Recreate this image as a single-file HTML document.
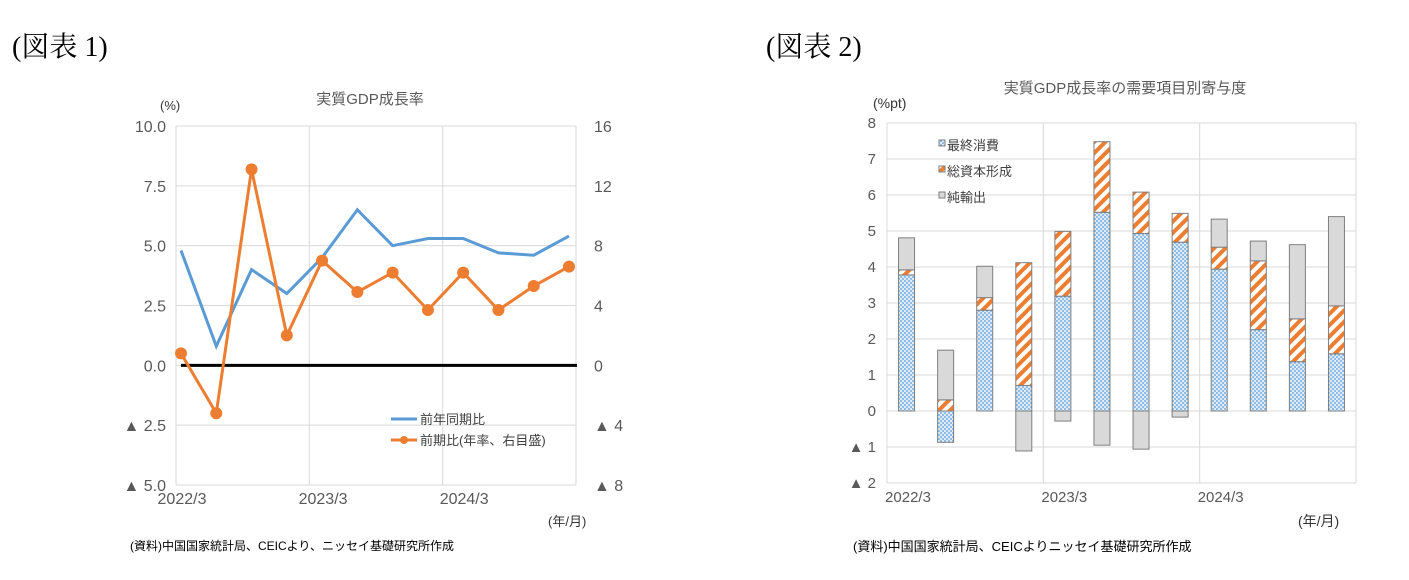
<!DOCTYPE html>
<html><head><meta charset="utf-8">
<style>
body{margin:0;background:#fff;width:1409px;height:575px;overflow:hidden;font-family:"Liberation Sans","Noto Sans CJK JP",sans-serif;}
svg text{font-family:"Liberation Sans","Noto Sans CJK JP",sans-serif;}
</style></head><body>
<svg id="root" width="1409" height="575" xmlns="http://www.w3.org/2000/svg">
<defs>
<pattern id="dots" width="4" height="4" patternUnits="userSpaceOnUse">
<rect width="4" height="4" fill="#dcebf8"/><circle cx="1" cy="1" r="0.9" fill="#5b9bd5"/><circle cx="3" cy="3" r="0.9" fill="#5b9bd5"/></pattern>
<pattern id="stripes" width="8" height="8" patternUnits="userSpaceOnUse" patternTransform="rotate(45)">
<rect width="8" height="8" fill="#fff"/><rect width="4" height="8" fill="#ed7d31"/></pattern>
</defs>
<text x="12" y="56" font-size="28" font-family="Liberation Serif,Noto Serif CJK SC,serif" style="font-family:'Liberation Serif','Noto Serif CJK SC',serif">(図表 1)</text>
<text x="766" y="56" font-size="28" style="font-family:'Liberation Serif','Noto Serif CJK SC',serif">(図表 2)</text>
<g id="c1"></g>
<g id="c2"></g>
</svg>
<script>
const NS="http://www.w3.org/2000/svg";
function mk(p,t,a,txt){const e=document.createElementNS(NS,t);for(const k in a)e.setAttribute(k,a[k]);if(txt!=null)e.textContent=txt;p.appendChild(e);return e;}

// ---- Chart 1 data ----
const c1Categories=["2022/3","2022/6","2022/9","2022/12","2023/3","2023/6","2023/9","2023/12","2024/3","2024/6","2024/9","2024/12"];
const c1YoY=[4.8,0.8,4.0,3.0,4.5,6.5,5.0,5.3,5.3,4.7,4.6,5.4];
const c1QoQ=[0.8,-3.2,13.1,2.0,7.0,4.9,6.2,3.7,6.2,3.7,5.3,6.6];
const c1LeftTicks=["10.0","7.5","5.0","2.5","0.0","▲ 2.5","▲ 5.0"];
const c1RightTicks=["16","12","8","4","0","▲ 4","▲ 8"];
const c1XLabels=["2022/3","2023/3","2024/3"];

// ---- Chart 2 data ----
const c2Categories=c1Categories;
const c2Consumption=[3.78,-0.87,2.80,0.71,3.19,5.52,4.93,4.69,3.94,2.26,1.37,1.59];
const c2Capital=[0.14,0.31,0.35,3.41,1.80,1.96,1.15,0.80,0.61,1.91,1.19,1.33];
const c2NetExports=[0.89,1.38,0.87,-1.11,-0.28,-0.95,-1.06,-0.17,0.78,0.55,2.06,2.48];
const c2Ticks=["8","7","6","5","4","3","2","1","0","▲ 1","▲ 2"];
const c2XLabels=["2022/3","2023/3","2024/3"];

// ===== Chart 1 =====
(function(){
const g=document.getElementById('c1');
const L=176,R=576,T=126,B=485;
const yL=v=>T+(10-v)/15*(B-T);
const yR=v=>T+(16-v)/24*(B-T);
const x=i=>181+i*(569-181)/11;
let t=mk(g,'text',{x:370,y:104,'font-size':15,fill:'#595959','text-anchor':'middle'},'実質GDP成長率');


t=mk(g,'text',{x:160,y:110,'font-size':13,fill:'#333'},'(%)');


c1LeftTicks.forEach((s,i)=>{const y=T+i*(B-T)/6;
 const l=mk(g,'line',{x1:L,x2:R,y1:y,y2:y,stroke:'#d9d9d9'});
 
 
 const a=mk(g,'text',{x:166,y:y+6,'font-size':16,fill:'#595959','text-anchor':'end'},s);
 
 
 const b=mk(g,'text',{x:594,y:y+6,'font-size':16,fill:'#595959'},c1RightTicks[i]);
 
 
});
[0,4,8,12].forEach(k=>{const xx=L+k*(R-L)/12;
 const l=mk(g,'line',{x1:xx,x2:xx,y1:T,y2:B,stroke:'#d9d9d9'});
 
 });
c1XLabels.forEach((s,i)=>{const a=mk(g,'text',{x:x(i*4)+1,y:504,'font-size':16,fill:'#595959','text-anchor':'middle'},s);
 
 });
const z=mk(g,'line',{x1:181,x2:577,y1:yL(0),y2:yL(0),stroke:'#000','stroke-width':3});


const p1=mk(g,'polyline',{points:c1YoY.map((v,i)=>x(i)+','+yL(v)).join(' '),fill:'none',stroke:'#5b9bd5','stroke-width':3});


const p2=mk(g,'polyline',{points:c1QoQ.map((v,i)=>x(i)+','+yR(v)).join(' '),fill:'none',stroke:'#ed7d31','stroke-width':3});


c1QoQ.forEach((v,i)=>{const c=mk(g,'circle',{cx:x(i),cy:yR(v),r:6,fill:'#ed7d31'});
 
 });
let e=mk(g,'line',{x1:391,x2:417,y1:419,y2:419,stroke:'#5b9bd5','stroke-width':3});


e=mk(g,'text',{x:420,y:424,'font-size':13,fill:'#404040'},'前年同期比');


e=mk(g,'line',{x1:391,x2:417,y1:440,y2:440,stroke:'#ed7d31','stroke-width':3});


mk(g,'circle',{cx:404,cy:440,r:4,fill:'#ed7d31'});
e=mk(g,'text',{x:420,y:445,'font-size':13,fill:'#404040'},'前期比(年率、右目盛)');


e=mk(g,'text',{x:548,y:526,'font-size':13,fill:'#333'},'(年/月)');


e=mk(g,'text',{x:130,y:550,'font-size':12,fill:'#000'},'(資料)中国国家統計局、CEICより、ニッセイ基礎研究所作成');


})();

// ===== Chart 2 =====
(function(){
const g=document.getElementById('c2');
const L=887,R=1356,T=123,B=483;
const y=v=>T+(8-v)/10*(B-T);
const bw=(R-L)/12;
let t=mk(g,'text',{x:1125,y:93,'font-size':15,fill:'#595959','text-anchor':'middle'},'実質GDP成長率の需要項目別寄与度');


t=mk(g,'text',{x:873,y:108,'font-size':14,fill:'#333'},'(%pt)');


c2Ticks.forEach((s,i)=>{const yy=T+i*(B-T)/10;
 const l=mk(g,'line',{x1:L,x2:R,y1:yy,y2:yy,stroke:'#d9d9d9'});
 
 
 const a=mk(g,'text',{x:876,y:yy+5,'font-size':15,fill:'#595959','text-anchor':'end'},s);
 
 });
[0,4,8,12].forEach(k=>{const xx=L+k*bw;
 const l=mk(g,'line',{x1:xx,x2:xx,y1:T,y2:B,stroke:'#d9d9d9'});
 
 });
c2XLabels.forEach((s,i)=>{const a=mk(g,'text',{x:L+i*4*bw+21,y:502,'font-size':15,fill:'#595959','text-anchor':'middle'},s);
 
 });
const series=[[c2Consumption,'url(#dots)','consumption'],[c2Capital,'url(#stripes)','capital-formation'],[c2NetExports,'#d9d9d9','net-exports']];
c2Categories.forEach((c,i)=>{let pos=0,neg=0;const cx=L+(i+0.5)*bw;
 series.forEach(([arr,fill,nm])=>{const v=arr[i];let y0,y1;
  if(v>=0){y0=pos;y1=pos+v;pos=y1;}else{y0=neg;y1=neg+v;neg=y1;}
  const top=y(Math.max(y0,y1)),bot=y(Math.min(y0,y1));
  const r=mk(g,'rect',{x:cx-8,y:top,width:16,height:Math.max(bot-top,0.5),fill:fill,stroke:'#7f7f7f','stroke-width':1});
  
  });
});
const leg=[['url(#dots)','最終消費',145],['url(#stripes)','総資本形成',171],['#d9d9d9','純輸出',197]];
leg.forEach(([f,s,yy])=>{const r=mk(g,'rect',{x:939,y:yy-5,width:6,height:6,fill:f,stroke:'#7f7f7f'});
 
 
 const a=mk(g,'text',{x:947,y:yy+5,'font-size':13,fill:'#404040'},s);
 
 });
let e=mk(g,'text',{x:1298,y:526,'font-size':14,fill:'#333'},'(年/月)');


e=mk(g,'text',{x:853,y:551,'font-size':13,fill:'#000'},'(資料)中国国家統計局、CEICよりニッセイ基礎研究所作成');


})();
</script>
</body></html>
